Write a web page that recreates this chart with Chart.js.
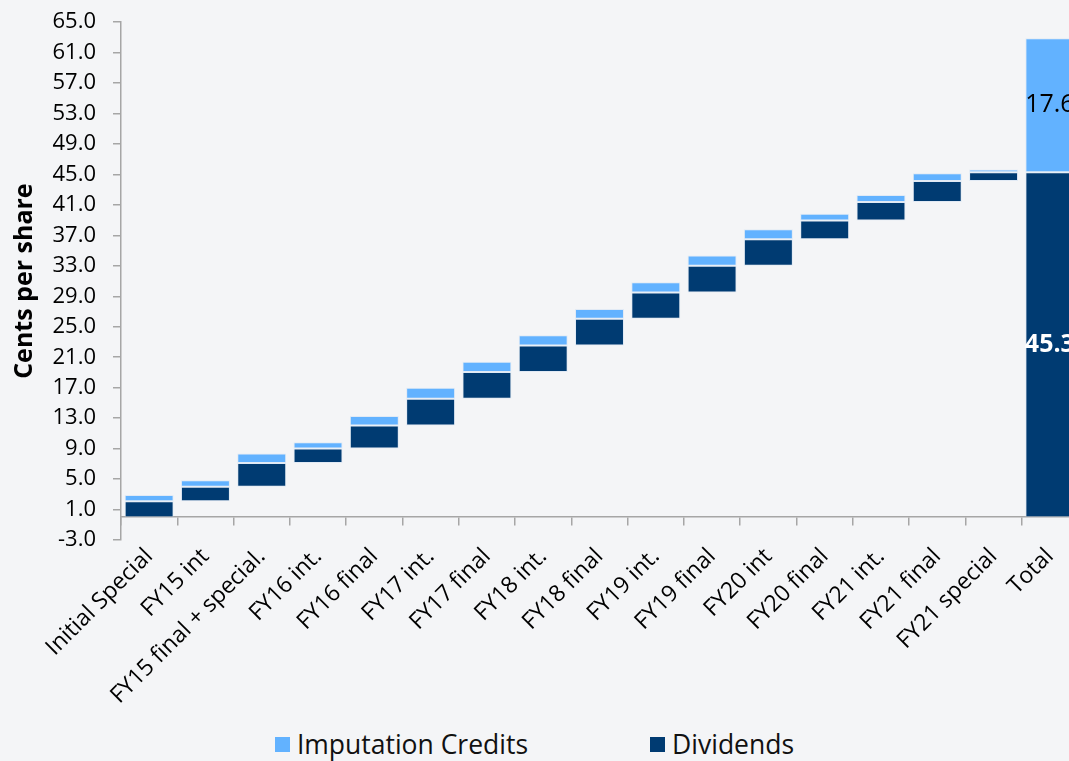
<!DOCTYPE html>
<html>
<head>
<meta charset="utf-8">
<script src="https://cdn.jsdelivr.net/npm/chart.js@4"></script>
<style>
  html, body { margin: 0; padding: 0; background: #f4f5f7; overflow: hidden; }
  #wrap { position: relative; width: 1080px; height: 761px; overflow: hidden; }
  #box { position: absolute; left: 0; top: -8px; width: 1080px; height: 733px; }
  #legend {
    position: absolute; left: 0; top: 726px; width: 1069px;
    display: flex; justify-content: center; gap: 122px;
    font-family: "Open Sans", sans-serif; font-size: 26.5px; color: #111;
  }
  #legend span.item { display: flex; align-items: center; }
  #legend i { display: inline-block; width: 15px; height: 15px; margin-right: 7px; }
</style>
</head>
<body>
<div id="wrap">
  <div id="box"><canvas id="myChart"></canvas></div>
  <div id="legend">
    <span class="item"><i style="background:#62b2ff"></i>Imputation Credits</span>
    <span class="item"><i style="background:#003b72"></i>Dividends</span>
  </div>
</div>
<script>
// categories of the waterfall (last one is the total)
const categories = [
    "Initial Special", "FY15 int", "FY15 final + special.", "FY16 int.", "FY16 final",
    "FY17 int.", "FY17 final", "FY18 int.", "FY18 final", "FY19 int.", "FY19 final",
    "FY20 int", "FY20 final", "FY21 int.", "FY21 final", "FY21 special", "Total",
];

// cents per share for each payment
const dividends = [2.1, 1.9, 3.1, 1.9, 3.05, 3.5, 3.5, 3.5, 3.5, 3.45, 3.5, 3.5, 2.45, 2.45, 2.75, 1.15];
const credits = [0.8, 0.85, 1.25, 0.85, 1.25, 1.45, 1.35, 1.35, 1.3, 1.35, 1.35, 1.3, 0.9, 0.9, 1.0, 0.35];

// y axis ticks
const yMin = -3;
const yMax = 65;
const yStep = 4;

const DARK = "#003b72";
const LIGHT = "#62b2ff";

// build floating bars: dividends step up, credits sit on top of each step
let running = 0;
const divBars = [];
const creditBars = [];
dividends.forEach((d, i) => {
    divBars.push([running, running + d]);
    creditBars.push([running + d, running + d + credits[i]]);
    running += d;
});
const totalDiv = dividends.reduce((a, v) => a + v, 0);
const totalCredits = credits.reduce((a, v) => a + v, 0);
divBars.push([0, totalDiv]);
creditBars.push([totalDiv, totalDiv + totalCredits]);

// labels on the total bar
const totalLabels = {
    id: "totalLabels",
    afterDatasetsDraw(chart) {
        const ctx = chart.ctx;
        const last = categories.length - 1;
        const specs = [
            { ds: 0, text: totalDiv.toFixed(1), color: "#ffffff", weight: "bold" },
            { ds: 1, text: totalCredits.toFixed(1), color: "#000000", weight: "normal" },
        ];
        ctx.save();
        specs.forEach((s) => {
            const bar = chart.getDatasetMeta(s.ds).data[last];
            ctx.font = s.weight + " 25px 'Open Sans', sans-serif";
            ctx.fillStyle = s.color;
            ctx.textAlign = "center";
            ctx.textBaseline = "middle";
            ctx.fillText(s.text, bar.x, (bar.y + bar.base) / 2);
        });
        ctx.restore();
    },
};

const ctx = document.getElementById("myChart").getContext("2d");
const myChart = new Chart(ctx, {
    type: "bar",
    data: {
        labels: categories,
        datasets: [
            {
                label: "Dividends",
                data: divBars,
                backgroundColor: DARK,
                borderColor: "rgba(190,215,240,0.35)",
                borderWidth: 1,
                borderSkipped: false,
                grouped: false,
                barPercentage: 1,
                categoryPercentage: 0.87,
            },
            {
                label: "Imputation Credits",
                data: creditBars,
                backgroundColor: LIGHT,
                borderColor: "rgba(190,215,240,0.35)",
                borderWidth: 1,
                borderSkipped: false,
                grouped: false,
                barPercentage: 1,
                categoryPercentage: 0.87,
            },
        ],
    },
    options: {
        responsive: true,
        maintainAspectRatio: false,
        animation: false,
        layout: { padding: { top: 8, right: 2, left: 0, bottom: 0 } },
        plugins: {
            legend: { display: false },
            tooltip: { enabled: false },
        },
        scales: {
            x: {
                grid: { display: false, drawTicks: false },
                border: { display: false },
                ticks: {
                    autoSkip: false,
                    maxRotation: 45,
                    minRotation: 45,
                    padding: 3,
                    color: "#000",
                    font: { family: "'Open Sans', sans-serif", size: 23 },
                },
                afterFit: (scale) => { scale.height = 185; },
            },
            // category axis line drawn at zero
            x2: {
                type: "category",
                position: { y: 0 },
                offset: true,
                grid: {
                    display: true,
                    offset: true,
                    drawOnChartArea: false,
                    drawTicks: true,
                    tickLength: 8,
                    color: "#a6a6a6",
                    lineWidth: 1.5,
                },
                border: { display: true, color: "#a6a6a6", width: 1.5 },
                ticks: { display: false },
            },
            y: {
                min: yMin,
                max: yMax,
                grid: {
                    display: true,
                    drawOnChartArea: false,
                    drawTicks: true,
                    tickLength: 8,
                    color: "#a6a6a6",
                    lineWidth: 1.5,
                },
                border: { display: true, color: "#a6a6a6", width: 1.5 },
                ticks: {
                    stepSize: yStep,
                    autoSkip: false,
                    padding: 17,
                    color: "#000",
                    font: { family: "'Open Sans', sans-serif", size: 22 },
                    callback: (v) => Number(v).toFixed(1),
                },
                title: {
                    display: true,
                    text: "Cents per share",
                    color: "#000",
                    font: { family: "'Open Sans', sans-serif", size: 25, weight: "bold" },
                    padding: { top: 10, bottom: 0 },
                },
                afterFit: (scale) => { scale.width = 121; },
            },
        },
    },
    plugins: [totalLabels],
});
</script>
</body>
</html>
